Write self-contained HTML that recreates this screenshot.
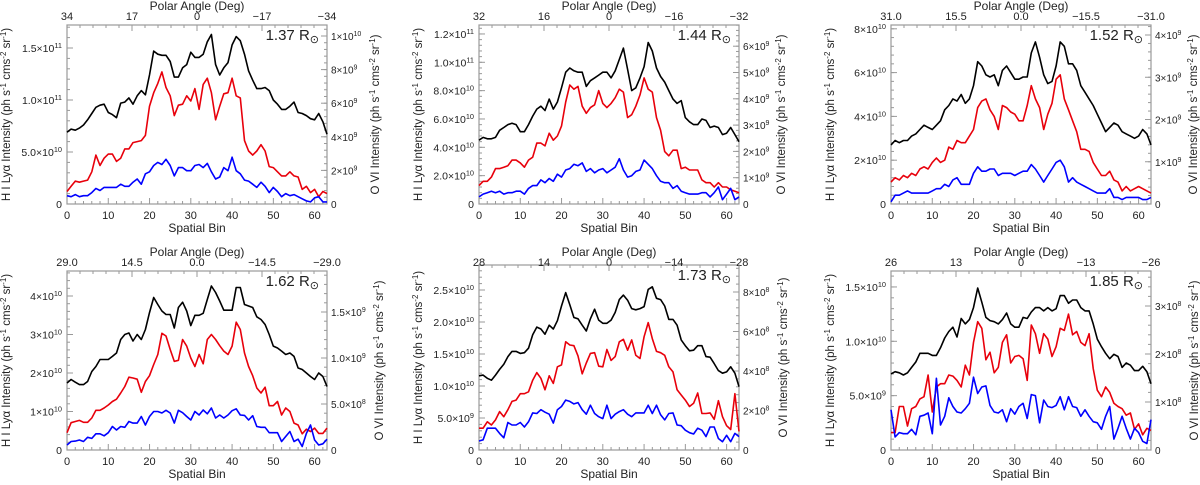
<!DOCTYPE html>
<html><head><meta charset="utf-8"><style>
html,body{margin:0;padding:0;background:#fff;}
svg{display:block;font-family:"Liberation Sans",sans-serif;}
</style></head><body>
<svg id="chart" width="1200" height="485" viewBox="0 0 1200 485" xmlns="http://www.w3.org/2000/svg"></svg>
<script>
// ---- data (left-axis units: P1-P3 in 1e10, P4-P6 in 1e9) ----
const bins = Array.from({length:64},(_, i)=>i);
const p1Black=[6.9,7.2,7.1,7.3,7.6,8.1,8.7,9.3,9.5,9.6,8.8,8.6,8.3,9.7,9.8,10.2,9.6,10.4,10.9,10.5,12.4,14.7,14.4,14.3,14.3,13.7,12.2,12.2,13.1,13.4,14.6,14.1,14.1,14.4,15.6,16.3,13.4,12.4,13.1,13.6,15.3,16.1,15.7,14.4,12.8,11.9,11.1,11.1,11.2,10.9,10.0,9.6,9.1,9.1,9.4,9.8,8.8,8.7,8.5,8.2,8.1,8.7,7.9,6.7];
const p1Red=[1.2,1.7,2.2,2.1,2.2,2.3,3.1,4.7,3.7,4.4,4.8,4.8,4.1,4.4,5.3,5.3,5.9,6.0,6.1,6.6,9.4,10.7,11.6,12.7,11.2,10.4,8.5,9.5,9.6,10.4,9.9,11.1,9.1,11.5,12.1,10.7,8.1,9.4,10.6,10.7,12.1,10.4,10.2,6.1,5.1,4.7,5.1,5.7,5.1,3.6,3.5,3.1,2.7,2.7,3.1,2.7,2.6,1.4,1.7,1.1,1.4,0.7,1.2,1.0];
const p1Blue=[0.8,0.7,0.9,0.7,0.8,0.8,1.1,1.5,1.3,1.6,1.6,1.6,1.6,1.9,1.7,1.7,2.1,2.4,1.9,2.9,3.1,3.7,4.0,3.8,4.3,3.7,2.7,3.5,3.5,3.2,3.2,3.7,3.8,3.5,3.9,3.1,2.4,2.6,3.5,3.2,4.5,3.2,2.9,2.3,2.2,1.9,1.6,2.1,1.7,1.1,1.6,1.2,0.7,1.0,0.8,0.9,0.7,0.5,0.3,0.2,0.6,0.7,0.2,0.2];
const p2Black=[4.5,4.7,4.6,4.6,4.7,5.2,5.4,5.6,5.7,5.6,5.1,5.1,5.6,6.2,6.7,6.9,6.6,7.4,6.7,7.2,8.2,9.3,9.6,9.4,9.3,9.3,8.3,8.7,8.9,9.1,9.3,9.3,8.9,9.4,10.2,11.0,9.5,8.0,8.2,8.9,9.7,11.4,10.8,9.6,9.0,8.6,8.0,7.4,7.1,7.3,6.1,5.8,5.6,5.6,6.0,5.9,5.4,5.5,5.4,4.9,5.0,5.4,4.9,4.4];
const p2Red=[1.3,1.6,1.6,1.9,2.5,2.5,2.6,2.7,3.1,3.1,2.9,2.6,3.1,3.3,4.3,4.3,4.1,5.0,4.5,4.8,5.5,7.2,8.4,8.1,8.3,6.9,6.4,6.8,7.0,8.0,7.1,6.8,7.1,7.5,8.1,7.9,6.1,6.3,6.9,7.7,8.9,8.1,7.9,6.1,5.2,3.7,3.4,3.8,3.8,2.5,2.6,2.4,2.4,2.4,1.7,1.5,1.5,1.2,1.5,1.2,1.2,1.0,0.9,0.8];
const p2Blue=[0.5,0.7,0.8,0.9,0.8,0.9,0.7,0.8,0.8,0.9,0.9,0.7,1.1,1.3,1.3,1.7,1.5,1.8,1.6,2.1,1.9,2.4,2.5,2.8,2.7,2.9,2.3,2.5,2.2,2.4,2.5,2.2,2.4,2.6,3.2,2.4,1.9,2.0,2.3,2.4,3.1,2.8,2.5,2.0,1.6,1.5,1.5,1.1,1.3,0.9,0.8,0.7,0.7,0.7,0.8,0.8,0.5,0.8,1.2,0.3,0.7,1.1,0.3,0.5];
const p3Black=[2.7,2.9,2.8,2.9,2.9,3.1,3.2,3.4,3.6,3.5,3.4,3.6,3.8,4.3,4.5,4.8,4.7,5.0,4.6,4.8,5.4,6.5,6.3,5.9,5.8,5.9,5.4,6.1,6.3,6.0,5.7,5.7,5.8,5.8,6.9,7.4,6.7,5.9,5.5,5.6,6.3,7.4,7.2,6.4,6.4,6.1,5.4,5.1,4.8,4.5,4.1,3.7,3.3,3.5,3.7,3.6,3.3,3.2,3.1,3.0,3.1,3.4,3.2,2.7];
const p3Red=[1.0,1.2,1.1,1.3,1.2,1.4,1.3,1.6,1.7,1.6,1.9,2.1,1.9,2.0,2.6,2.5,2.9,2.8,2.8,3.1,3.4,4.4,4.7,4.8,4.3,4.0,3.4,4.5,4.4,4.2,4.1,3.8,3.8,4.5,5.4,4.8,4.4,3.4,4.1,4.6,5.7,5.9,4.8,4.3,3.8,3.3,2.5,2.5,2.4,1.9,1.6,1.3,1.3,1.5,1.1,1.0,0.6,0.8,0.6,0.7,0.8,0.7,0.6,0.5];
const p3Blue=[0.1,0.4,0.4,0.5,0.6,0.5,0.5,0.5,0.5,0.5,0.6,0.7,0.7,0.9,0.8,1.1,1.2,0.9,0.9,0.9,1.4,1.7,1.5,1.5,1.6,1.6,1.3,1.4,1.4,1.4,1.3,1.4,1.5,1.5,1.8,1.6,1.3,1.0,1.3,1.6,1.9,2.0,1.7,1.0,1.2,1.0,0.9,0.8,0.7,0.6,0.5,0.5,0.5,0.7,0.3,0.3,0.2,0.3,0.3,0.3,0.3,0.2,0.2,0.3];
const p4Black=[17.4,18.3,17.6,17.0,17.0,17.8,20.4,21.7,23.5,23.5,23.5,24.3,25.2,28.7,30.0,30.4,28.3,30.0,28.7,31.3,35.7,39.6,37.8,36.1,35.2,35.2,31.7,37.0,38.4,36.1,32.3,35.0,35.0,35.5,39.1,42.6,40.9,38.7,36.3,36.3,36.3,42.2,42.2,37.8,37.4,37.0,34.6,33.9,32.6,30.0,27.0,26.5,25.7,24.8,25.2,24.3,21.3,20.9,20.0,19.1,18.3,20.0,19.1,16.5];
const p4Red=[4.5,7.1,7.4,7.7,7.2,7.2,8.3,10.3,10.3,10.9,11.7,12.6,13.2,14.8,16.5,18.9,18.7,18.4,15.0,17.8,19.3,22.2,24.8,30.3,29.6,26.1,23.0,23.3,28.7,27.0,23.9,21.7,24.8,22.4,28.7,30.0,28.7,27.1,25.7,24.8,27.0,33.2,31.3,25.2,21.7,19.3,16.1,14.8,16.3,11.5,11.5,12.6,9.1,10.9,10.0,7.0,6.5,4.2,5.4,4.8,5.7,4.3,4.3,5.7];
const p4Blue=[1.3,2.2,2.3,2.6,2.2,3.3,3.0,4.2,4.2,3.7,4.5,6.1,5.2,6.1,5.9,7.4,7.0,7.0,8.7,6.5,8.7,10.0,10.0,9.6,10.3,9.6,7.0,10.3,9.7,8.7,7.8,10.0,9.1,10.4,9.4,10.9,8.3,9.1,8.3,9.1,10.2,10.7,9.1,9.0,7.8,8.9,6.1,5.9,5.9,4.5,4.5,4.5,2.2,3.5,4.8,2.2,2.8,0.9,4.3,6.5,2.6,1.3,1.6,2.8];
const p5Black=[11.6,11.7,11.2,10.9,11.7,12.6,13.4,14.6,15.4,15.4,15.1,15.2,15.9,18.0,19.2,18.9,18.1,19.5,18.9,20.2,22.5,24.6,22.7,20.7,20.5,19.5,18.6,20.5,22.0,20.3,19.8,19.8,20.3,21.5,23.5,24.2,23.4,22.1,21.9,22.1,22.4,25.1,25.5,23.7,23.5,22.5,20.4,20.4,19.5,17.2,16.3,15.5,15.6,16.3,16.3,14.6,14.5,13.5,12.4,12.0,12.2,13.0,12.0,9.9];
const p5Red=[3.4,3.4,4.4,3.9,4.7,6.0,5.2,6.3,7.6,7.8,8.8,8.8,9.1,10.9,12.1,11.2,9.4,11.6,10.4,13.0,13.3,16.9,16.4,16.3,14.7,11.9,13.6,15.1,15.2,13.1,13.0,15.7,14.0,14.6,16.9,17.3,15.6,17.2,14.8,14.3,17.7,19.9,17.4,15.4,15.2,14.8,13.0,12.2,9.4,8.6,7.8,6.8,7.3,8.9,5.7,5.7,5.8,4.8,7.7,5.2,3.8,3.2,8.8,2.9];
const p5Blue=[1.4,1.6,3.4,3.4,3.4,2.6,1.9,4.3,3.9,3.9,4.3,3.6,4.4,5.8,5.7,6.3,5.9,5.6,4.2,6.3,6.8,7.8,7.6,7.2,7.4,6.3,5.6,7.0,5.7,5.2,4.9,7.0,4.9,5.6,6.0,6.3,5.6,5.2,5.8,5.8,5.8,7.0,5.7,7.0,5.5,4.7,5.7,5.8,3.9,3.8,3.1,2.7,2.5,3.4,3.1,2.1,3.6,3.6,1.8,1.3,2.3,1.3,2.6,2.1];
const p6Black=[7.0,7.2,7.1,6.9,7.1,7.6,8.1,8.9,8.9,8.9,8.7,8.7,9.4,10.3,10.9,11.3,10.4,12.1,11.6,12.0,13.1,14.9,13.6,12.2,11.9,11.8,11.6,12.0,12.6,11.6,11.3,11.3,12.2,12.1,12.7,13.1,13.1,12.8,13.1,12.8,13.0,14.2,14.2,13.5,13.8,13.8,13.1,12.8,12.8,11.6,10.2,9.5,8.9,8.4,8.8,8.6,7.6,8.0,7.8,7.3,7.3,7.7,7.2,6.1];
const p6Red=[1.6,1.6,4.0,4.0,2.2,3.8,4.0,4.7,4.9,6.9,3.5,5.8,6.1,6.1,6.9,6.8,6.4,5.8,7.8,6.9,9.9,11.8,11.2,8.3,9.0,7.1,7.6,9.9,10.6,8.0,8.6,8.7,8.4,6.4,11.5,10.7,8.9,10.7,10.2,8.6,9.5,11.2,11.0,12.5,10.6,10.9,9.9,9.6,10.7,7.5,5.5,4.9,5.8,5.3,4.3,4.0,3.8,3.2,3.4,1.9,2.4,1.4,2.0,1.8];
const p6Blue=[3.7,1.2,1.6,1.5,1.5,1.9,1.4,3.1,3.2,3.4,1.5,6.6,2.3,3.1,4.8,4.0,3.5,3.4,3.8,4.3,6.7,5.2,5.8,5.9,4.1,3.5,3.4,3.7,2.6,3.8,3.3,4.0,4.3,2.9,5.1,5.0,2.5,4.6,4.0,3.9,4.1,4.9,3.7,4.9,4.0,3.9,3.1,3.7,3.1,2.6,2.5,1.9,3.1,4.0,1.0,2.0,3.1,2.0,1.0,2.0,1.6,0.8,0.6,2.8];
// tick values / labels
const p1LeftTicks=[0,5,10,15]; const p1LeftLabels=["0","5.0×10^10","1.0×10^11","1.5×10^11"];
const p1RightTicks=[0,2,4,6,8,10]; const p1RightLabels=["0","2×10^9","4×10^9","6×10^9","8×10^9","1×10^10"];
const p1TopLabels=["34","17","0","−17","−34"];
const p2LeftTicks=[0,2,4,6,8,10,12]; const p2LeftLabels=["0","2.0×10^10","4.0×10^10","6.0×10^10","8.0×10^10","1.0×10^11","1.2×10^11"];
const p2RightTicks=[0,1,2,3,4,5,6]; const p2RightLabels=["0","1×10^9","2×10^9","3×10^9","4×10^9","5×10^9","6×10^9"];
const p2TopLabels=["32","16","0","−16","−32"];
const p3LeftTicks=[0,2,4,6,8]; const p3LeftLabels=["0","2×10^10","4×10^10","6×10^10","8×10^10"];
const p3RightTicks=[0,1,2,3,4]; const p3RightLabels=["0","1×10^9","2×10^9","3×10^9","4×10^9"];
const p3TopLabels=["31.0","15.5","0.0","−15.5","−31.0"];
const p4LeftTicks=[0,10,20,30,40]; const p4LeftLabels=["0","1×10^10","2×10^10","3×10^10","4×10^10"];
const p4RightTicks=[0,0.5,1.0,1.5]; const p4RightLabels=["0","5.0×10^8","1.0×10^9","1.5×10^9"];
const p4TopLabels=["29.0","14.5","0.0","−14.5","−29.0"];
const p5LeftTicks=[0,5,10,15,20,25]; const p5LeftLabels=["0","5.0×10^9","1.0×10^10","1.5×10^10","2.0×10^10","2.5×10^10"];
const p5RightTicks=[0,0.2,0.4,0.6,0.8]; const p5RightLabels=["0","2×10^8","4×10^8","6×10^8","8×10^8"];
const p5TopLabels=["28","14","0","−14","−28"];
const p6LeftTicks=[0,5,10,15]; const p6LeftLabels=["0","5.0×10^9","1.0×10^10","1.5×10^10"];
const p6RightTicks=[0,0.1,0.2,0.3]; const p6RightLabels=["0","1×10^8","2×10^8","3×10^8"];
const p6TopLabels=["26","13","0","−13","−26"];
const xTicks=[0,10,20,30,40,50,60];
const radii=["1.37","1.44","1.52","1.62","1.73","1.85"];

// layout (pixel geometry, not data)
const layout=[
 {x0:67,x1:327,yt:25,yb:204,lt:25,lpx:10.4,rpx:16.8,ro:48},
 {x0:479,x1:739,yt:25,yb:204,lt:25,lpx:14.17,rpx:26.3,ro:42},
 {x0:891,x1:1151,yt:25,yb:204,lt:25,lpx:21.9,rpx:42.25,ro:42},
 {x0:67,x1:327,yt:271,yb:450,lt:271,lpx:3.85,rpx:92,ro:52},
 {x0:479,x1:739,yt:265,yb:450,lt:271,lpx:6.4,rpx:197.5,ro:44},
 {x0:891,x1:1151,yt:271,yb:450,lt:271,lpx:10.87,rpx:480,ro:43}
];
const panelData=[
 {black:p1Black,red:p1Red,blue:p1Blue,lt:p1LeftTicks,ll:p1LeftLabels,rt:p1RightTicks,rl:p1RightLabels,top:p1TopLabels},
 {black:p2Black,red:p2Red,blue:p2Blue,lt:p2LeftTicks,ll:p2LeftLabels,rt:p2RightTicks,rl:p2RightLabels,top:p2TopLabels},
 {black:p3Black,red:p3Red,blue:p3Blue,lt:p3LeftTicks,ll:p3LeftLabels,rt:p3RightTicks,rl:p3RightLabels,top:p3TopLabels},
 {black:p4Black,red:p4Red,blue:p4Blue,lt:p4LeftTicks,ll:p4LeftLabels,rt:p4RightTicks,rl:p4RightLabels,top:p4TopLabels},
 {black:p5Black,red:p5Red,blue:p5Blue,lt:p5LeftTicks,ll:p5LeftLabels,rt:p5RightTicks,rl:p5RightLabels,top:p5TopLabels},
 {black:p6Black,red:p6Red,blue:p6Blue,lt:p6LeftTicks,ll:p6LeftLabels,rt:p6RightTicks,rl:p6RightLabels,top:p6TopLabels}
];

const NS="http://www.w3.org/2000/svg";
const svg=document.getElementById('chart');
function mk(tag,attrs,parent){const e=document.createElementNS(NS,tag);for(const k in attrs)e.setAttribute(k,attrs[k]);(parent||svg).appendChild(e);return e;}
function expText(parent,str,x,y,anchor,size){
  const t=mk('text',{x:x,y:y,'text-anchor':anchor,'font-size':size,fill:'#222'},parent);
  const parts=str.split('^');
  t.appendChild(document.createTextNode(parts[0]));
  if(parts[1]){const s=mk('tspan',{dy:-4,'font-size':size*0.7},t);s.textContent=parts[1];}
  return t;
}
const AX='#999';
const titleSup='<tspan dy="-4" font-size="8">-1</tspan><tspan dy="4"> cms</tspan><tspan dy="-4" font-size="8">-2</tspan><tspan dy="4"> sr</tspan><tspan dy="-4" font-size="8">-1</tspan><tspan dy="4">)</tspan>';
layout.forEach((L,pi)=>{
  const D=panelData[pi];
  const g=mk('g',{});
  
  
  const xs=b=>L.x0+(b/63)*(L.x1-L.x0);
  const yl=v=>L.yb-v*L.lpx;
  const yr=v=>L.yb-v*L.rpx;
  const box=mk('rect',{x:L.x0,y:L.yt,width:L.x1-L.x0,height:L.yb-L.yt,fill:'none',stroke:AX,'stroke-width':1.2},g);
  
  
  for(let b=0;b<=63;b+=2){const big=b%10===0;mk('line',{x1:xs(b),x2:xs(b),y1:L.yb,y2:L.yb-(big?6:3),stroke:AX},g);}
  xTicks.forEach(b=>{const t=expText(g,String(b),xs(b),L.yb+15,'middle',11);
    
    });
  const xt=mk('text',{x:(L.x0+L.x1)/2,y:L.yb+28,'text-anchor':'middle','font-size':12,fill:'#222'},g);xt.textContent='Spatial Bin';
  
  
  D.top.forEach((lab,i)=>{const x=L.x0+i*(L.x1-L.x0)/4;
    mk('line',{x1:x,x2:x,y1:L.yt,y2:L.yt+6,stroke:AX},g);
    const t=expText(g,lab,x,L.lt-5,'middle',11);
    
    });
  for(let i=0;i<=20;i++){const x=L.x0+i*(L.x1-L.x0)/20;mk('line',{x1:x,x2:x,y1:L.yt,y2:L.yt+3,stroke:AX},g);}
  const tt=mk('text',{x:(L.x0+L.x1)/2,y:L.lt-15,'text-anchor':'middle','font-size':12,fill:'#222'},g);tt.textContent='Polar Angle (Deg)';
  
  
  const ls=D.lt[1]-D.lt[0];
  for(let v=0;yl(v)>=L.yt-0.5;v+=ls/5){mk('line',{x1:L.x0,x2:L.x0+3,y1:yl(v),y2:yl(v),stroke:AX},g);}
  D.lt.forEach((v,i)=>{mk('line',{x1:L.x0,x2:L.x0+6,y1:yl(v),y2:yl(v),stroke:AX},g);
    const t=expText(g,D.ll[i],L.x0-5,yl(v)+4,'end',10.5);
    
    });
  const rs=D.rt[1]-D.rt[0];
  for(let v=0;yr(v)>=L.yt-0.5;v+=rs/5){mk('line',{x1:L.x1,x2:L.x1-3,y1:yr(v),y2:yr(v),stroke:AX},g);}
  D.rt.forEach((v,i)=>{mk('line',{x1:L.x1,x2:L.x1-6,y1:yr(v),y2:yr(v),stroke:AX},g);
    const t=expText(g,D.rl[i],L.x1+4,yr(v)+4,'start',10);
    
    });
  const cy=(L.yt+L.yb)/2;
  const lt=mk('text',{x:0,y:0,'text-anchor':'middle','font-size':11.5,fill:'#222',transform:`translate(${L.x0-57},${cy}) rotate(-90)`},g);
  lt.innerHTML='H I Ly\u03b1 Intensity (ph s'+titleSup;
  
  
  const rtt=mk('text',{x:0,y:0,'text-anchor':'middle','font-size':11.5,fill:'#222',transform:`translate(${L.x1+L.ro+4},${cy}) rotate(-90)`},g);
  rtt.innerHTML='O VI Intensity (ph s'+titleSup;
  
  
  const rl=mk('text',{x:L.x1-8,y:L.yt+15,'text-anchor':'end','font-size':15,fill:'#222'},g);
  rl.innerHTML=radii[pi]+' R<tspan dy="3" font-size="11">\u2299</tspan>';
  
  
  [['black','#000'],['red','#e8000b'],['blue','#0000ff']].forEach(([k,c])=>{
    const pts=bins.map(b=>xs(b).toFixed(1)+','+yl(D[k][b]).toFixed(1)).join(' ');
    const p=mk('polyline',{points:pts,fill:'none',stroke:c,'stroke-width':1.6,'stroke-linejoin':'round'},g);
    
    
  });
});
</script>
</body></html>
